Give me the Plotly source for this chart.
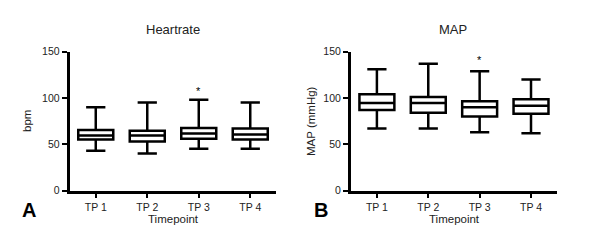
import plotly.graph_objects as go
from plotly.subplots import make_subplots

categories = ["TP 1", "TP 2", "TP 3", "TP 4"]

hr_low = [43, 40, 45, 45]
hr_q1 = [55, 53, 56, 55]
hr_median = [59.5, 59.5, 61.5, 60.5]
hr_q3 = [65.5, 64.5, 67.5, 67]
hr_high = [90, 95, 98, 95]

map_low = [67, 67, 63, 62]
map_q1 = [87, 84, 80, 83]
map_median = [94.5, 94.5, 90, 91.5]
map_q3 = [104, 101, 96.5, 98.5]
map_high = [131, 137, 129, 120]

yticks = [0, 50, 100, 150]
star_hr = 108
star_map = 141

# the page body has an 8px margin; the figure sits at (8, 8)
OFF = 8
W, H = 600 - 2 * OFF, 247 - 2 * OFF

def px(X):
    return (X - OFF) / W

def py(Y):
    return (247 - OFF - Y) / H

fig = make_subplots(rows=1, cols=2)

font = "Liberation Sans, Arial, sans-serif"

def add_box(col, low, q1, med, q3, high):
    fig.add_trace(go.Box(
        x=categories, lowerfence=low, q1=q1, median=med, q3=q3, upperfence=high,
        fillcolor="white", line=dict(color="black", width=2.5),
        width=0.68, whiskerwidth=0.55, boxpoints=False, showlegend=False,
        hoverinfo="skip"), row=1, col=col)

add_box(1, hr_low, hr_q1, hr_median, hr_q3, hr_high)
add_box(2, map_low, map_q1, map_median, map_q3, map_high)

axis_common = dict(showline=True, linecolor="black", linewidth=2.5, ticks="outside",
                   ticklen=5, tickwidth=2, tickcolor="black", showgrid=False,
                   zeroline=False, automargin=False,
                   tickfont=dict(family=font, size=10.5, color="#222"))

ydom = [py(190.5), py(51.7)]

fig.update_layout(
    width=W, height=H, margin=dict(l=0, r=0, t=0, b=0),
    plot_bgcolor="white", paper_bgcolor="white",
    xaxis=dict(domain=[px(69.5), px(276)], range=[-0.51, 3.5], type="category", **axis_common),
    xaxis2=dict(domain=[px(350.7), px(556.7)], range=[-0.51, 3.5], type="category", **axis_common),
    yaxis=dict(domain=ydom, range=[0, 150], tickvals=yticks, **axis_common),
    yaxis2=dict(domain=ydom, range=[0, 150], tickvals=yticks, **axis_common),
)

def paper_ann(x, y, text, size, angle=0, color="#222"):
    fig.add_annotation(x=px(x), y=py(y), xref="paper", yref="paper", text=text,
                       showarrow=False, font=dict(family=font, size=size, color=color),
                       xanchor="center", yanchor="middle", textangle=angle)

paper_ann(173, 29, "Heartrate", 13)
paper_ann(453, 29, "MAP", 13)
paper_ann(173, 219, "Timepoint", 11.5)
paper_ann(454, 219, "Timepoint", 11.5)
paper_ann(27, 121, "bpm", 11.5, angle=-90)
paper_ann(311, 121, "MAP (mmHg)", 11.5, angle=-90)
paper_ann(29, 210, "<b>A</b>", 20, color="black")
paper_ann(321, 210, "<b>B</b>", 20, color="black")

fig.add_annotation(x="TP 3", y=star_hr, xref="x", yref="y", text="*", showarrow=False,
                   font=dict(family=font, size=11, color="black"))
fig.add_annotation(x="TP 3", y=star_map, xref="x2", yref="y2", text="*", showarrow=False,
                   font=dict(family=font, size=11, color="black"))

fig.write_html("out.html")
